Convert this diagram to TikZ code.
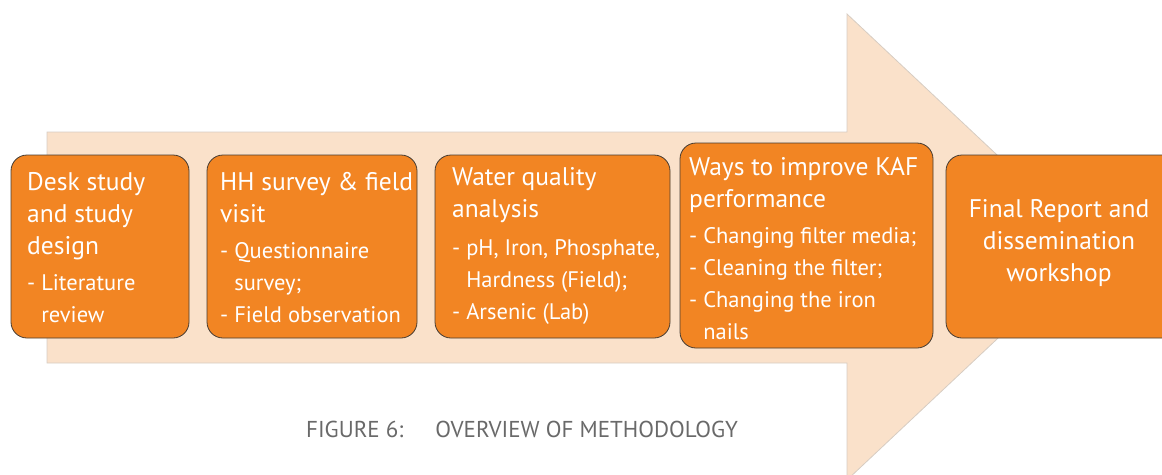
\documentclass[tikz,border=0pt]{standalone}
\usepackage{fontspec}
\setmainfont{PT Sans}
\definecolor{arrowfill}{RGB}{250,225,202}
\definecolor{arrowline}{RGB}{215,205,195}
\definecolor{boxfill}{RGB}{242,133,35}
\definecolor{boxline}{RGB}{70,60,50}
\definecolor{captiongray}{RGB}{105,105,105}
\tikzset{
  stepbox/.style={draw=boxline, line width=0.8pt, fill=boxfill, rounded corners=16pt, inner sep=0pt},
  headtxt/.style={text=white, font=\fontsize{25.5}{32}\selectfont, align=left, inner sep=0pt, anchor=north west},
  centertxt/.style={text=white, font=\fontsize{25.5}{32}\selectfont, align=center, inner sep=0pt, anchor=north},
}
\newcommand{\subf}{\fontsize{22.5}{32}\selectfont}
\newcommand{\hang}{\hphantom{- }}
\begin{document}
\begin{tikzpicture}[x=1pt,y=-1pt]
\useasboundingbox (0,0) rectangle (1162,474);
\clip (0,0) rectangle (1162,474);
% big background arrow
\draw[draw=arrowline, fill=arrowfill, line width=0.8pt]
  (47,132) -- (847,132) -- (847,14) -- (1095,247) -- (847,480) -- (847,363) -- (47,363) -- cycle;
% boxes
\node[stepbox, minimum width=178pt, minimum height=183pt] (b1) at (100,246.5) {};
\node[stepbox, minimum width=210pt, minimum height=183pt] (b2) at (312,246.5) {};
\node[stepbox, minimum width=235pt, minimum height=183pt] (b3) at (552.5,246.5) {};
\node[stepbox, minimum width=253pt, minimum height=205pt] (b4) at (806.5,245.5) {};
\node[stepbox, minimum width=240pt, minimum height=183pt] (b5) at (1066,246.5) {};
% texts
\node[headtxt] (t1) at (27,167.6) {\strut Desk study\\and study\\design\\[4pt]\subf - Literature\\\subf\hang review};
\node[headtxt] (t2) at (220,167.6) {\strut HH survey \& field\\visit\\[4pt]\subf - Questionnaire\\\subf\hang survey;\\\subf - Field observation};
\node[headtxt] (t3) at (452,162.6) {\strut Water quality\\analysis\\[6pt]\subf - pH, Iron, Phosphate,\\\subf\hang Hardness (Field);\\\subf - Arsenic (Lab)};
\node[headtxt] (t4) at (689,152.6) {\strut Ways to improve KAF\\performance\\[4pt]\subf - Changing filter media;\\\subf - Cleaning the filter;\\\subf - Changing the iron\\\subf\hang nails};
\node[centertxt] (t5) at (1059,194.6) {\strut Final Report and\\dissemination\\workshop};
% caption
\node[text=captiongray, font=\fontsize{23}{26}\selectfont, anchor=base, inner sep=0pt] (cap) at (522,437) {FIGURE 6:\hspace{32pt}OVERVIEW OF METHODOLOGY};
\end{tikzpicture}
\end{document}
